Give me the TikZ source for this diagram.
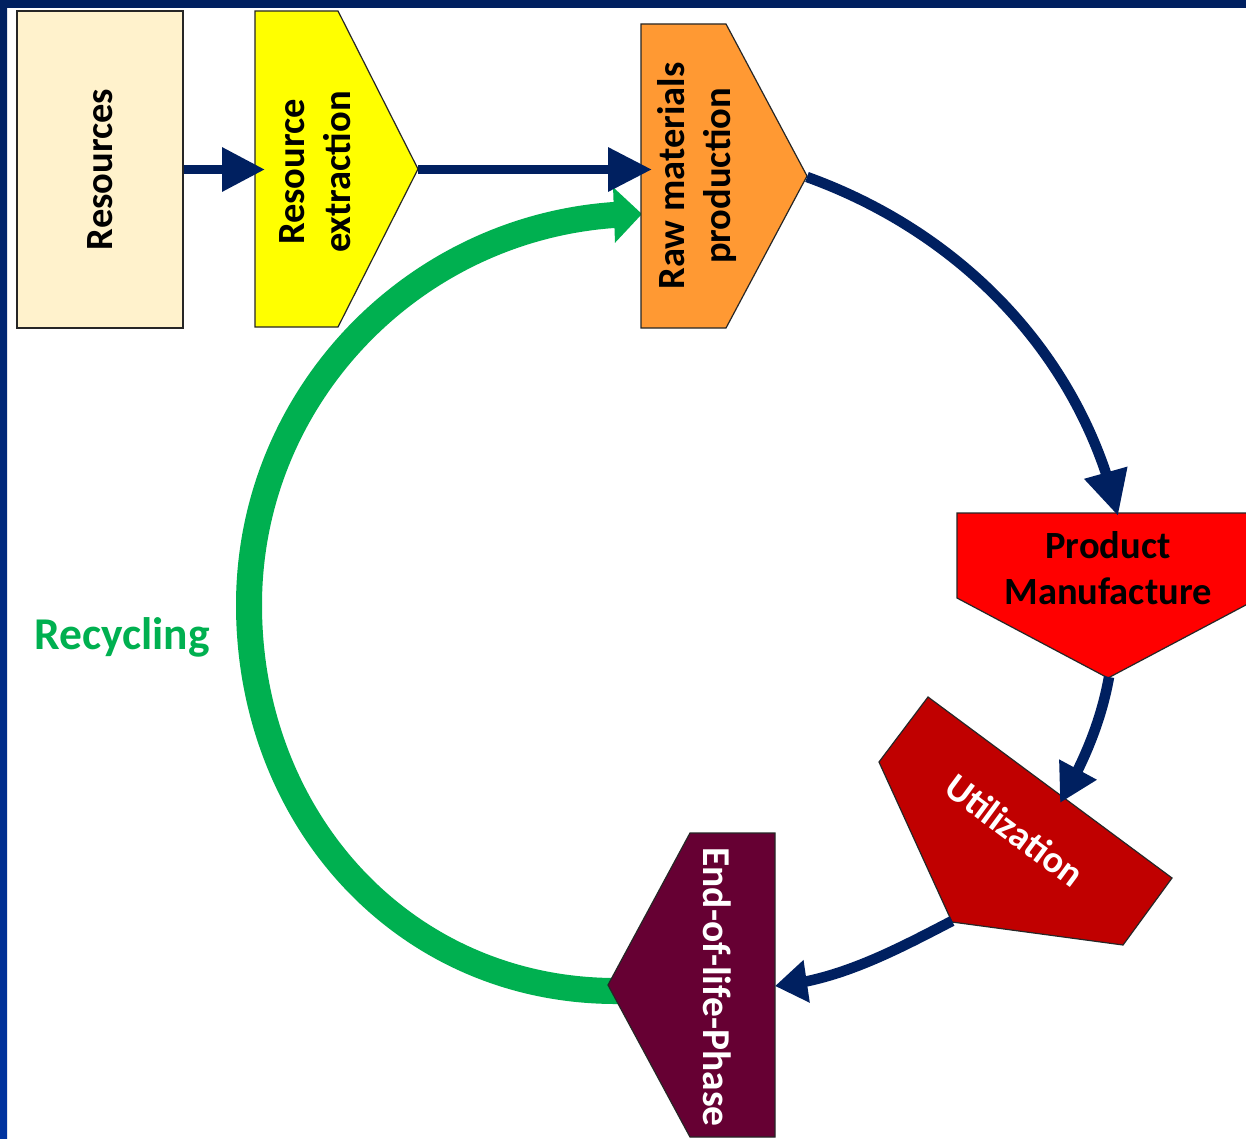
\documentclass[tikz,border=0pt]{standalone}
\usepackage{fontspec}
\setmainfont{Carlito}
\usetikzlibrary{arrows.meta,bending}

\definecolor{navy}{HTML}{002060}
\definecolor{frameblue}{HTML}{0033A0}
\definecolor{cream}{HTML}{FFF2CC}
\definecolor{stageyellow}{HTML}{FFFF00}
\definecolor{stageorange}{HTML}{FF9933}
\definecolor{stagered}{HTML}{FF0000}
\definecolor{stagedarkred}{HTML}{C00000}
\definecolor{stagemaroon}{HTML}{660033}
\definecolor{recyclegreen}{HTML}{00B050}

\begin{document}
\begin{tikzpicture}[x=1pt,y=-1pt,
  outline/.style={draw=black!85, line width=1.2pt, line join=miter},
  lbl/.style={font=\fontsize{38.5}{46}\selectfont\bfseries, align=center, inner sep=0pt},
  flow/.style={draw=navy, line width=9.5pt},
  bentflow/.style={draw=navy, line width=10.5pt},
  recycle/.style={draw=recyclegreen, line width=26pt}]

\useasboundingbox (0,0) rectangle (1246,1139);
\fill[white] (0,0) rectangle (1246,1139);

% frame bands along the top and left edges
\shade[top color=navy, bottom color=frameblue] (0,0) rectangle (7,1139);
\fill[navy] (0,0) rectangle (1246,8.5);

% attachment points of the stages
\coordinate (resx-in) at (265,169.5);
\coordinate (resx-out) at (418,169.5);
\coordinate (raw-in) at (652,169.5);
\coordinate (raw-recycle) at (642,214);
\coordinate (raw-out) at (807,177);
\coordinate (prod-in) at (1118,516);
\coordinate (prod-out) at (1109,677);
\coordinate (util-in) at (1060,803);
\coordinate (util-out) at (952,921);
\coordinate (eol-in) at (775,986);
\coordinate (eol-out) at (618,991);
\coordinate (loop-left) at (249,605);

% recycling loop, running under the end-of-life stage
\draw[recycle, -{Triangle[length=28pt,width=54pt]}] (eol-out) .. controls (405,992) and (249,820) .. (loop-left)
  .. controls (249,389) and (426,214) .. (raw-recycle);

% Resources
\node[outline, fill=cream, minimum width=166pt, minimum height=317pt, inner sep=0pt]
  (res) at (100,169.5) {};
\node[lbl, rotate=90] (reslbl) at (res.center) {Resources};

% Resource extraction
\filldraw[outline, fill=stageyellow] (255,11) -- (338,11) -- (418,169) -- (338,327) -- (255,327) -- cycle;
\node[lbl, rotate=90] (resx) at (315,172) {Resource\\extraction};

% Raw materials production
\filldraw[outline, fill=stageorange] (641,24) -- (726,24) -- (807,176) -- (726,328) -- (641,328) -- cycle;
\node[lbl, rotate=90] (raw) at (697,176) {Raw materials\\production};

% Product Manufacture
\filldraw[outline, fill=stagered] (957,513) -- (1259,513) -- (1259,598) -- (1108,678) -- (957,598) -- cycle;
\node[lbl, text=black] (prod) at (1108,568) {Product\\Manufacture};

% Utilization
\filldraw[outline, fill=stagedarkred] (928,697) -- (1172,878) -- (1123,945) -- (952,922) -- (879,762) -- cycle;
\node[lbl, text=white, rotate=-36.6, font=\fontsize{38}{46}\selectfont\bfseries] (util) at (1015,830) {Utilization};

% End-of-life-Phase
\filldraw[outline, fill=stagemaroon] (690,833) -- (775,833) -- (775,1137) -- (690,1137) -- (608,985) -- cycle;
\node[lbl, text=white, rotate=-90, font=\fontsize{39.5}{48}\selectfont\bfseries] (eol) at (717,987) {End-of-life-Phase};

% Recycling label
\node[lbl, text=recyclegreen, font=\fontsize{45.5}{52}\selectfont\bfseries] (rec) at (122,637) {Recycling};

% main flow
\draw[flow, -{Triangle[length=43pt,width=42pt]}] (res.east |- resx-in) -- (resx-in);
\draw[flow, -{Triangle[length=44pt,width=42pt]}] (resx-out) -- (raw-in);
\draw[bentflow, -{Triangle[length=45pt,width=42pt]}] (raw-out) .. controls (965,234) and (1082,359) .. (prod-in);
\draw[bentflow, -{Triangle[length=38pt,width=40pt]}] (prod-out) .. controls (1101,722) and (1083,764) .. (util-in);
\draw[bentflow, -{Triangle[length=32pt,width=41pt]}] (util-out) .. controls (896,950) and (838,981) .. (eol-in);

\end{tikzpicture}
\end{document}
